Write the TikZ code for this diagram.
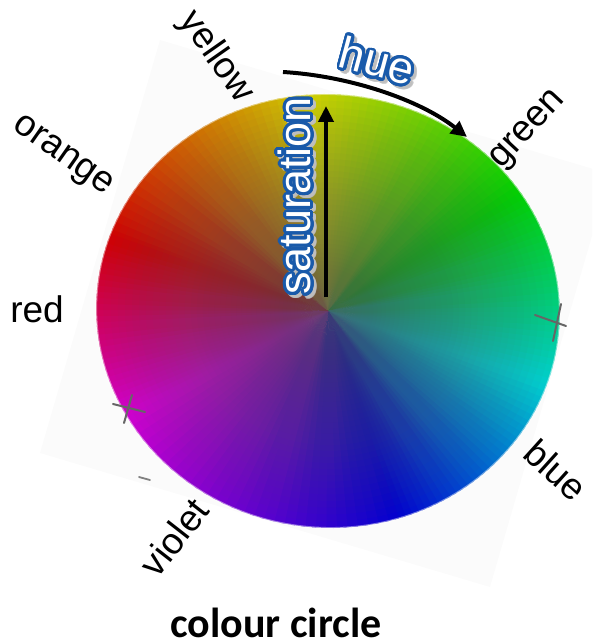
\documentclass[tikz,border=0pt]{standalone}
\usepackage{fontspec}
\setmainfont{Liberation Sans}
\newfontfamily\calibrifont{Carlito}
\usepackage{contour}
\usetikzlibrary{arrows.meta}
\definecolor{hueblue}{RGB}{25,90,170}
\definecolor{centergray}{RGB}{88,90,100}
\tikzset{
  lbl/.style={inner sep=0pt, font=\fontsize{37}{37}\selectfont},
  bluelbl/.style={inner sep=0pt, font=\fontsize{45}{45}\selectfont},
  shadowlbl/.style={inner sep=0pt, font=\fontsize{45}{45}\selectfont, text=black!25, opacity=0.5},
  bigarrow/.style={line width=4pt, -{Triangle[length=16pt,width=15pt]}},
  crossmark/.style={draw=black!60, line width=2pt, line cap=round}
}
\contourlength{2.8pt}
\contournumber{40}
\begin{document}
\begin{tikzpicture}[x=1pt,y=-1pt]
\useasboundingbox (0,0) rectangle (592,644);
\begin{scope}
\clip (0,0) rectangle (592,644);
\fill[black!1.5] (160,40) -- (40,453) -- (490,587) -- (610,174) -- cycle;
\end{scope}
% colour wheel
\begin{scope}[shift={(328,311)}, rotate=-5, yscale=-0.935]
\foreach \a/\b/\ha/\hb in {165/98/0/60, 98/38/60/120, 38/-15/120/180, -15/-68/180/240, -68/-146/240/300, -146/-195/300/360} {
  \foreach \i in {0,...,29} {
    \pgfmathsetmacro\tA{\a+(\b-\a)*\i/30+0.5}
    \pgfmathsetmacro\tB{\a+(\b-\a)*(\i+1)/30-0.5}
    \pgfmathsetmacro\hh{mod(\ha+(\hb-\ha)*(\i+0.5)/30,360)}
    \definecolor{wc}{Hsb}{\hh,1,0.82}
    \fill[wc] (0,0) -- (\tA:232) -- (\tB:232) -- cycle;
  }
}
\foreach \k in {1,...,50} {
  \pgfmathsetmacro\rr{232*(\k/50)^1.6}
  \fill[centergray, opacity=0.032] (0,0) circle[radius=\rr];
}
\draw[white, opacity=0.45, line width=2pt] (0,0) circle[radius=232];
\end{scope}
% marks
\draw[crossmark] (113,404) -- (145,412);
\draw[crossmark] (132,395) -- (124,423);
\draw[crossmark] (535,315) -- (566,326);
\draw[crossmark] (561,304) -- (553,341);
\draw[crossmark, draw=black!50, line width=1.8pt] (139,477) -- (150,480);
% arrows
\coordinate (hueS) at (283,72);
\coordinate (hueE) at (467,137);
\draw[bigarrow] (hueS) .. controls (350,76) and (420,100) .. (hueE);
\coordinate (satS) at (326,297);
\coordinate (satE) at (326,106);
\draw[bigarrow] (satS) -- (satE);
% labels
\node[lbl, rotate=-55] (yellow) at (216,57) {yellow};
\node[lbl, rotate=-35] (orange) at (62,157) {orange};
\node[lbl] (red) at (37,309) {red};
\node[lbl, rotate=47] (green) at (529,131) {green};
\node[lbl, rotate=-42] (blue) at (556,470) {blue};
\node[lbl, rotate=52] (violet) at (174,537) {violet};
\node[shadowlbl, rotate=90] (satshadow) at (299,199) {\contour{black!25}{saturation}};
\node[bluelbl, rotate=90] (sat) at (296,196) {\contour{hueblue}{\textcolor{white}{saturation}}};
\node[shadowlbl, rotate=-15] (hueshadow) at (380,65) {\contour{black!25}{hue}};
\node[bluelbl, rotate=-15] (hue) at (377,62) {\contour{hueblue}{\textcolor{white}{hue}}};
\node[inner sep=0pt, font=\calibrifont\bfseries\fontsize{42}{42}\selectfont] (title) at (276,623) {colour circle};
\end{tikzpicture}
\end{document}
